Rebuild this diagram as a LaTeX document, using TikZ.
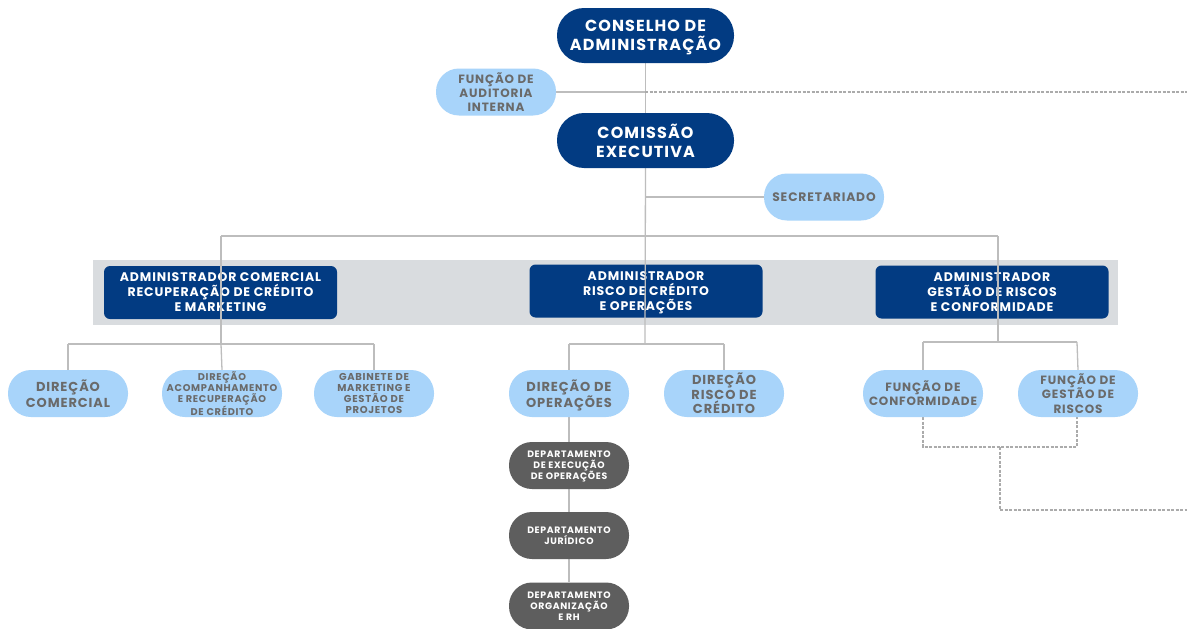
\documentclass[tikz,border=0pt]{standalone}
\usepackage{fontspec}
\setmainfont{Poppins}[LetterSpace=7]
\usetikzlibrary{backgrounds}
\definecolor{darkblue}{HTML}{023B82}
\definecolor{lightblue}{HTML}{A8D4FA}
\definecolor{graytext}{HTML}{6A6A6A}
\definecolor{deptgray}{HTML}{5E5E5E}
\definecolor{bandgray}{HTML}{D9DCDF}
\definecolor{linegray}{HTML}{BDBDBD}
\definecolor{dashgray}{HTML}{ABABAB}
\begin{document}
\begin{tikzpicture}[x=1pt,y=-1pt,
  pillbase/.style={rectangle,inner sep=0pt,align=center,text depth=0pt,font=\bfseries},
  bigpill/.style={pillbase,fill=darkblue,text=white,minimum width=177pt,minimum height=55pt,rounded corners=27pt},
  lightpill/.style={pillbase,fill=lightblue,text=graytext,minimum width=120pt,minimum height=47pt,rounded corners=23pt},
  deptpill/.style={pillbase,fill=deptgray,text=white,minimum width=120pt,minimum height=47pt,rounded corners=23pt},
  adminbox/.style={pillbase,fill=darkblue,text=white,minimum width=233pt,minimum height=53pt,rounded corners=6pt},
  conn/.style={draw=linegray,line width=1.3pt},
  dconn/.style={draw=dashgray,line width=1.2pt,dash pattern=on 3pt off 1.5pt}]
\useasboundingbox (0,0) rectangle (1187,629);

% top level
\node[bigpill,font=\bfseries\fontsize{16}{18.5}\selectfont] (cons) at (645.5,35.5) {CONSELHO DE\\ADMINISTRAÇÃO};
\node[bigpill,font=\bfseries\fontsize{16}{19}\selectfont] (comi) at (645.5,140.5) {COMISSÃO\\EXECUTIVA};
\node[lightpill,font=\bfseries\fontsize{12}{14}\selectfont] (audi) at (496,92) {FUNÇÃO DE\\AUDITORIA\\INTERNA};
\node[lightpill,font=\bfseries\fontsize{12.3}{14}\selectfont] (secr) at (824,197) {SECRETARIADO};

% direcoes
\node[lightpill,font=\bfseries\fontsize{13}{16}\selectfont] (dcom) at (68,393.5) {DIREÇÃO\\COMERCIAL};
\node[lightpill,font=\bfseries\fontsize{9.8}{11}\selectfont] (dacp) at (222,393.5) {DIREÇÃO\\ACOMPANHAMENTO\\E RECUPERAÇÃO\\DE CRÉDITO};
\node[lightpill,font=\bfseries\fontsize{10}{11}\selectfont] (gabi) at (374,393.5) {GABINETE DE\\MARKETING E\\GESTÃO DE\\PROJETOS};
\node[lightpill,font=\bfseries\fontsize{13}{15}\selectfont] (dope) at (569,393.5) {DIREÇÃO DE\\OPERAÇÕES};
\node[lightpill,font=\bfseries\fontsize{13}{14.5}\selectfont] (drsc) at (724,393.5) {DIREÇÃO\\RISCO DE\\CRÉDITO};
\node[lightpill,font=\bfseries\fontsize{12}{14}\selectfont] (fcon) at (923,393.5) {FUNÇÃO DE\\CONFORMIDADE};
\node[lightpill,font=\bfseries\fontsize{12}{14.5}\selectfont] (fges) at (1078,393.5) {FUNÇÃO DE\\GESTÃO DE\\RISCOS};

% departamentos
\node[deptpill,font=\bfseries\fontsize{9.3}{11}\selectfont] (dep1) at (569,465.5) {DEPARTAMENTO\\DE EXECUÇÃO\\DE OPERAÇÕES};
\node[deptpill,font=\bfseries\fontsize{9.3}{11}\selectfont] (dep2) at (569,535.5) {DEPARTAMENTO\\JURÍDICO};
\node[deptpill,font=\bfseries\fontsize{9.3}{11}\selectfont] (dep3) at (569,606) {DEPARTAMENTO\\ORGANIZAÇÃO\\E RH};

\begin{pgfonlayer}{background}
\fill[white] (0,0) rectangle (1187,629);
\fill[bandgray] (93,260) rectangle (1118,325);
\node[adminbox,font=\bfseries\fontsize{12.5}{15}\selectfont] (adm1) at (220.5,292.5) {ADMINISTRADOR COMERCIAL\\RECUPERAÇÃO DE CRÉDITO\\E MARKETING};
\node[adminbox,font=\bfseries\fontsize{12.5}{15}\selectfont] (adm2) at (646,291) {ADMINISTRADOR\\RISCO DE CRÉDITO\\E OPERAÇÕES};
\node[adminbox,font=\bfseries\fontsize{12.5}{15}\selectfont] (adm3) at (992,292) {ADMINISTRADOR\\GESTÃO DE RISCOS\\E CONFORMIDADE};

% coordinates
\coordinate (audj) at (645,92);
\coordinate (audr) at (1187,92);
\coordinate (secj) at (645,197);
\coordinate (b1) at (221,236);
\coordinate (b3) at (998,236);
\coordinate (a1b) at (221,344);
\coordinate (a2b) at (645,344);
\coordinate (a3b) at (998,342);
\coordinate (g1) at (923,447);
\coordinate (g2) at (1077,447);
\coordinate (gm) at (1000,447);
\coordinate (gd) at (1000,510);
\coordinate (gr) at (1187,510);

\draw[conn] (cons.south) -- (comi.north);
\draw[conn] (audi.east) -- (audj);
\draw[dconn] (audj) -- (audr);
\draw[conn] (comi.south) -- (a2b);
\draw[conn] (secj) -- (secr.west);
\draw[conn] (b1) -- (b3);
\draw[conn] (b1) -- (a1b);
\draw[conn] (b3) -- (a3b);
\draw[conn] (a1b -| dcom.north) -- (a1b -| gabi.north);
\draw[conn] (a1b -| dcom.north) -- (dcom.north);
\draw[conn] (a1b) -- (dacp.north);
\draw[conn] (a1b -| gabi.north) -- (gabi.north);
\draw[conn] (a2b -| dope.north) -- (a2b -| drsc.north);
\draw[conn] (a2b -| dope.north) -- (dope.north);
\draw[conn] (a2b -| drsc.north) -- (drsc.north);
\draw[conn] (dope.south) -- (dep3.north);
\draw[conn] (a3b -| fcon.north) -- (a3b -| g2);
\draw[conn] (a3b -| fcon.north) -- (fcon.north);
\draw[conn] (a3b -| g2) -- (fges.north);
\draw[dconn] (fcon.south) -- (g1) -- (g2) -- (g2 |- fges.south);
\draw[dconn] (gm) -- (gd) -- (gr);
\end{pgfonlayer}
\end{tikzpicture}
\end{document}
